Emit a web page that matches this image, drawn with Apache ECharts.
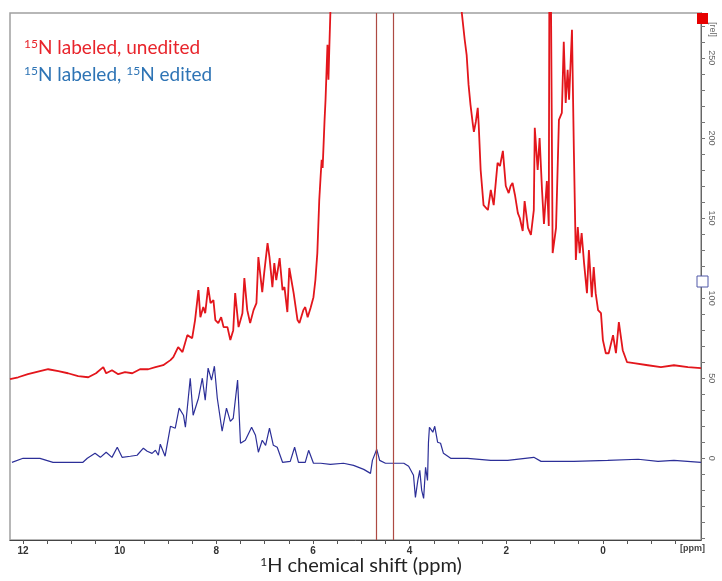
<!DOCTYPE html>
<html>
<head>
<meta charset="utf-8">
<script src="https://cdn.jsdelivr.net/npm/echarts@6/dist/echarts.min.js"></script>
<style>
  html, body { margin: 0; padding: 0; background: #fff; }
  #chart { width: 722px; height: 581px; }
</style>
</head>
<body>
<div id="chart"></div>
<script>
// 15N labeled, unedited (red) -- ppm / intensity
var redPpm = [12.27, 12.10, 11.90, 11.65, 11.48, 11.27, 11.07, 10.86, 10.65, 10.49, 10.34, 10.28, 10.16, 10.03, 9.89, 9.74, 9.58, 9.41, 9.26, 9.10,
  8.95, 8.89, 8.79, 8.70, 8.60, 8.50, 8.44, 8.37, 8.33, 8.27, 8.23, 8.17, 8.12, 8.06, 8.02, 7.96, 7.90, 7.85, 7.77, 7.71,
  7.65, 7.61, 7.54, 7.46, 7.42, 7.36, 7.30, 7.23, 7.17, 7.13, 7.05, 7.01, 6.94, 6.90, 6.84, 6.80, 6.76, 6.69, 6.63, 6.59,
  6.53, 6.49, 6.40, 6.32, 6.28, 6.20, 6.16, 6.11, 6.05, 5.99, 5.95, 5.91, 5.87, 5.84, 5.82, 5.80, 5.76, 5.74, 5.70, 5.68,
  5.66, 5.64, 5.62, 2.96, 2.92, 2.86, 2.82, 2.78, 2.74, 2.69, 2.67, 2.63, 2.59, 2.57, 2.53, 2.47, 2.38, 2.32, 2.26, 2.18,
  2.13, 2.07, 2.01, 1.95, 1.91, 1.87, 1.82, 1.76, 1.72, 1.66, 1.62, 1.55, 1.49, 1.43, 1.41, 1.35, 1.31, 1.26, 1.22, 1.16,
  1.12, 1.10, 1.06, 1.04, 0.97, 0.91, 0.85, 0.81, 0.77, 0.73, 0.70, 0.64, 0.60, 0.56, 0.52, 0.48, 0.44, 0.39, 0.33, 0.29,
  0.23, 0.19, 0.15, 0.10, 0.04, 0.00, -0.06, -0.12, -0.21, -0.27, -0.33, -0.41, -0.50, -0.64, -0.93, -1.20, -1.47, -1.76, -2.03];
var redVal = [49.4, 50.6, 52.5, 54.4, 55.6, 54.4, 53.1, 51.3, 50.6, 53.1, 56.9, 53.1, 55.0, 52.5, 53.8, 53.1, 55.6, 55.6, 56.9, 58.1,
  61.3, 63.1, 69.4, 66.3, 76.9, 75.0, 86.3, 105.0, 88.1, 94.4, 90.6, 106.9, 96.9, 98.8, 86.3, 84.4, 88.1, 81.9, 81.9, 73.8,
  80.0, 103.1, 81.9, 90.6, 112.5, 92.5, 84.4, 92.5, 96.9, 125.6, 103.8, 115.6, 134.4, 125.6, 106.9, 121.9, 111.3, 125.0, 105.0, 106.9,
  91.3, 118.8, 103.1, 86.3, 84.4, 92.5, 94.4, 88.1, 93.8, 100.6, 111.3, 128.1, 161.3, 176.9, 186.3, 181.3, 211.3, 223.8, 258.1, 236.3,
  258.1, 278.1, 400, 400, 278.1, 261.3, 251.9, 233.1, 220.6, 208.1, 203.8, 210.0, 218.8, 208.1, 180.0, 158.1, 155.0, 167.5, 158.1, 184.4,
  182.5, 191.9, 170.0, 165.6, 170.0, 171.9, 164.4, 153.1, 150.0, 141.9, 160.6, 143.8, 139.4, 155.0, 206.3, 180.0, 200.0, 167.5, 146.3, 173.1,
  145.0, 400, 400, 128.1, 143.8, 211.3, 215.6, 260.0, 221.9, 242.5, 223.8, 267.5, 190.6, 123.8, 144.4, 128.1, 140.6, 121.9, 103.1, 130.0,
  100.6, 119.4, 103.1, 92.5, 90.6, 73.8, 65.6, 65.6, 76.9, 65.6, 85.0, 67.5, 60.0, 59.4, 58.1, 56.9, 58.1, 56.9, 56.3];

// 15N labeled, 15N edited (blue)
var bluePpm = [12.23, 12.00, 11.65, 11.38, 11.09, 10.76, 10.67, 10.51, 10.40, 10.28, 10.16, 10.05, 9.95, 9.78, 9.64, 9.51, 9.43, 9.33, 9.26, 9.20,
  9.16, 9.06, 8.95, 8.85, 8.77, 8.68, 8.64, 8.54, 8.48, 8.37, 8.29, 8.23, 8.17, 8.10, 8.04, 7.98, 7.88, 7.79, 7.71, 7.65,
  7.56, 7.50, 7.40, 7.27, 7.19, 7.13, 7.05, 6.98, 6.90, 6.82, 6.74, 6.63, 6.47, 6.38, 6.30, 6.16, 6.09, 5.99, 5.84, 5.64,
  5.37, 5.16, 4.95, 4.81, 4.77, 4.68, 4.62, 4.50, 4.33, 4.12, 4.02, 3.92, 3.88, 3.83, 3.79, 3.75, 3.71, 3.67, 3.63, 3.61,
  3.59, 3.52, 3.48, 3.42, 3.36, 3.30, 3.15, 2.80, 2.32, 1.97, 1.43, 1.28, 0.60, -0.10, -0.73, -1.14, -1.47, -2.03];
var blueVal = [-2.5, 0, 0, -2.5, -2.5, -2.5, 0, 3.1, 0.6, 3.8, 0.6, 6.9, 0.6, 1.3, 1.9, 6.3, 4.4, 3.1, 5.0, 1.9,
  8.8, 1.3, 20.0, 18.8, 31.3, 26.9, 19.4, 50.0, 26.9, 37.5, 50.0, 36.3, 56.3, 48.8, 57.5, 37.5, 16.9, 31.3, 23.1, 25.0,
  48.8, 9.4, 11.3, 19.4, 14.4, 3.8, 11.3, 8.1, 18.8, 8.1, 6.9, -2.5, -1.9, 6.9, -2.5, -2.5, 5.0, -3.1, -3.1, -3.8,
  -3.1, -4.4, -6.9, -9.4, -1.3, 5.6, -1.3, -3.1, -3.1, -3.1, -5.0, -10.6, -24.4, -13.8, -7.5, -20.0, -25.0, -5.6, -13.8, 10.0,
  19.4, 16.3, 20.0, 10.0, 9.4, 3.1, 0, 0, -1.3, -1.3, 0.6, -1.9, -1.9, -1.3, -0.6, -1.9, -1.3, -2.5];

// vertical marker lines (ppm)
var markerPpm = [4.70, 4.34];

// axis ticks / labels
var xLabels = [0, 2, 4, 6, 8, 10, 12];
var xTicks = [-1.5, -1, -0.5, 0, 0.5, 1, 1.5, 2, 2.5, 3, 3.5, 4, 4.5, 5, 5.5, 6, 6.5, 7, 7.5, 8, 8.5, 9, 9.5, 10, 10.5, 11, 11.5, 12];
var yLabels = [0, 50, 100, 150, 200, 250];
var yTicks = [-50, -40, -30, -20, -10, 0, 10, 20, 30, 40, 50, 60, 70, 80, 90, 100, 110, 120, 130, 140, 150, 160, 170, 180, 190, 200, 210, 220, 230, 240, 250, 260, 270];

function zip(a, b) {
  return a.map(function (v, i) { return [v, b[i]]; });
}

var chart = echarts.init(document.getElementById('chart'));
chart.setOption({
  animation: false,
  backgroundColor: '#fff',
  grid: {
    left: 10, right: 21, top: 13, bottom: 41,
    show: true, borderColor: '#a0a0a0', borderWidth: 1.5
  },
  xAxis: {
    type: 'value', inverse: true, min: -2.03, max: 12.27,
    splitLine: { show: false },
    axisLine: { onZero: false, lineStyle: { color: '#444', width: 1 } },
    axisTick: { customValues: xTicks, length: 4, lineStyle: { color: '#555' } },
    axisLabel: {
      customValues: xLabels, color: '#333', fontSize: 10, fontWeight: 'bold',
      fontFamily: 'Liberation Sans', margin: 6
    }
  },
  yAxis: {
    type: 'value', position: 'right', min: -51, max: 278,
    splitLine: { show: false },
    axisLine: { show: true, onZero: false, lineStyle: { color: '#666', width: 1 } },
    axisTick: { customValues: yTicks, length: 4, lineStyle: { color: '#777' } },
    axisLabel: {
      customValues: yLabels, color: '#666', fontSize: 9, rotate: -90,
      fontFamily: 'Liberation Sans', margin: 6
    }
  },
  series: [
    {
      name: '15N labeled, unedited', type: 'line', data: zip(redPpm, redVal),
      showSymbol: false, clip: true,
      lineStyle: { color: '#e3161c', width: 1.8 },
      markLine: {
        silent: true, symbol: 'none', label: { show: false },
        lineStyle: { color: '#ad4a43', width: 1.2, type: 'solid' },
        data: markerPpm.map(function (p) { return { xAxis: p }; })
      }
    },
    {
      name: '15N labeled, 15N edited', type: 'line', data: zip(bluePpm, blueVal),
      showSymbol: false, clip: true,
      lineStyle: { color: '#2c2f98', width: 1.2 }
    }
  ],
  graphic: [
    {
      type: 'text', left: 24, top: 38,
      style: {
        text: '{s|15}{m|N labeled, unedited}',
        rich: {
          s: { fontSize: 12, fill: '#e8242b', fontFamily: 'Lato', verticalAlign: 'top' },
          m: { fontSize: 19, fill: '#e8242b', fontFamily: 'Lato' }
        }
      }
    },
    {
      type: 'text', left: 24, top: 65,
      style: {
        text: '{s|15}{m|N labeled, }{s|15}{m|N edited}',
        rich: {
          s: { fontSize: 12, fill: '#2e74b5', fontFamily: 'Lato', verticalAlign: 'top' },
          m: { fontSize: 19, fill: '#2e74b5', fontFamily: 'Lato' }
        }
      }
    },
    {
      type: 'text', left: 'center', top: 556,
      style: {
        text: '{s|1}{m|H chemical shift (ppm)}',
        rich: {
          s: { fontSize: 12, fill: '#222', fontFamily: 'Lato', verticalAlign: 'top' },
          m: { fontSize: 20, fill: '#222', fontFamily: 'Lato' }
        }
      }
    },
    {
      type: 'text', left: 680, top: 544,
      style: { text: '[ppm]', fontSize: 9, fontWeight: 'bold', fill: '#444', fontFamily: 'Liberation Sans' }
    },
    {
      type: 'text', left: 708, top: 22, rotation: -Math.PI / 2,
      style: { text: '[rel]', fontSize: 9, fill: '#666', fontFamily: 'Liberation Sans' }
    },
    {
      type: 'rect', z: 100, shape: { x: 697, y: 13, width: 11, height: 11 },
      style: { fill: '#e60000' }
    },
    {
      type: 'rect', z: 100, shape: { x: 697, y: 276, width: 11, height: 11 },
      style: { fill: '#fff', stroke: '#5058a8', lineWidth: 1 }
    }
  ]
});
</script>
</body>
</html>
